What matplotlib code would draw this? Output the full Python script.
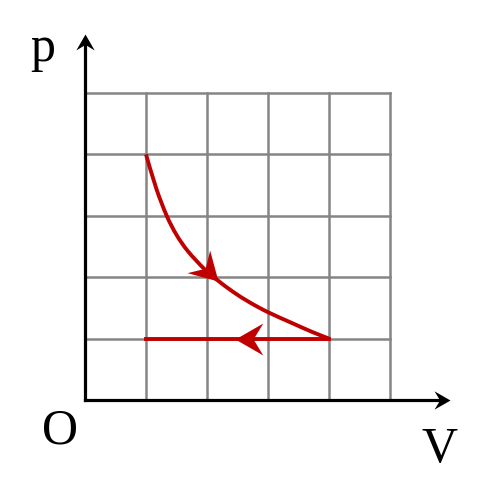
import matplotlib.pyplot as plt
from matplotlib.path import Path
from matplotlib.patches import PathPatch
from matplotlib.markers import MarkerStyle
from matplotlib.transforms import Affine2D

# values (grid units)
grid_lines = [0, 1, 2, 3, 4, 5]
curve_V = [1.0, 1.17, 1.34, 1.5, 1.69, 1.97, 2.18, 2.43, 2.7, 3.0, 3.39, 3.72, 4.0]
curve_p = [4.0, 3.44, 3.0, 2.69, 2.42, 2.12, 1.945, 1.76, 1.59, 1.43, 1.255, 1.11, 1.0]
isobar_V = [4.0, 1.0]
isobar_p = [1.0, 1.0]
curve_arrow = (2.18, 1.945)
isobar_arrow = (2.46, 1.0)

red = '#c00000'
gray = '#858585'

# stealth arrowhead with its tip at the origin, pointing along +x
head = Path([(0, 0), (-2, 1.15), (-1.3, 0), (-2, -1.15), (0, 0)],
            [Path.MOVETO, Path.LINETO, Path.LINETO, Path.LINETO, Path.CLOSEPOLY])

def arrowhead(x, y, angle, size, color):
    m = MarkerStyle(head, transform=Affine2D().rotate_deg(angle))
    ax.plot([x], [y], marker=m, markersize=size, color=color,
            markeredgewidth=0, linestyle='none', zorder=5)

def smooth_path(xs, ys):
    # catmull-rom through the read points, drawn as cubic bezier segments
    pts = list(zip(xs, ys))
    ext = [pts[0]] + pts + [pts[-1]]
    verts, codes = [pts[0]], [Path.MOVETO]
    for i in range(1, len(ext) - 2):
        p0, p1, p2, p3 = ext[i - 1], ext[i], ext[i + 1], ext[i + 2]
        c1 = (p1[0] + (p2[0] - p0[0]) / 6, p1[1] + (p2[1] - p0[1]) / 6)
        c2 = (p2[0] - (p3[0] - p1[0]) / 6, p2[1] - (p3[1] - p1[1]) / 6)
        verts += [c1, c2, p2]
        codes += [Path.CURVE4] * 3
    return Path(verts, codes)

fig = plt.figure(figsize=(4.87, 5.03), dpi=100, facecolor='white')
ax = fig.add_axes([0, 0, 1, 1])
ax.set_xlim(-85 / 61, 402 / 61)
ax.set_ylim(-103 / 61.4, 400 / 61.4)
ax.axis('off')

for g in grid_lines:
    ax.plot([g, g], [0, 5], color=gray, lw=1.8, zorder=1)
    ax.plot([0, 5], [g, g], color=gray, lw=1.8, zorder=1)

# axes
ax.plot([0, 0], [0, 5.85], color='black', lw=2.3, zorder=3, solid_capstyle='projecting')
ax.plot([0, 5.85], [0, 0], color='black', lw=2.3, zorder=3, solid_capstyle='projecting')
arrowhead(0, 5.96, 90, 23, 'black')
arrowhead(5.98, 0, 0, 23, 'black')

# process
ax.add_patch(PathPatch(smooth_path(curve_V, curve_p), fill=False,
                       edgecolor=red, lw=2.8, zorder=4, capstyle='butt'))
ax.plot(isobar_V, isobar_p, color=red, lw=2.8, zorder=4)
arrowhead(*curve_arrow, -45, 40, red)
arrowhead(*isobar_arrow, 180, 40, red)

font = dict(family='Liberation Serif', fontsize=36, ha='center', va='baseline')
ax.text((43 - 85) / 61, (400 - 61) / 61.4, 'p', **font)
ax.text((60 - 85) / 61, (400 - 443) / 61.4, 'O', **font)
ax.text((440 - 85) / 61, (400 - 462) / 61.4, 'V', **font)

fig.savefig('out.png', dpi=100, facecolor='white')
